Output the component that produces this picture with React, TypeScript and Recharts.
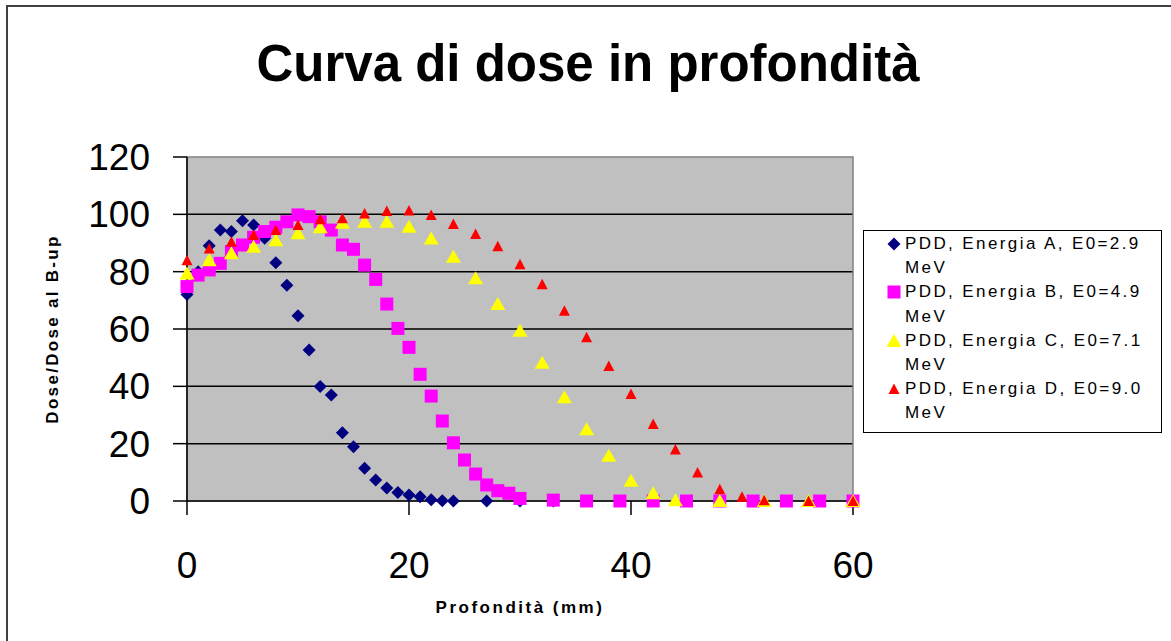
import React from 'react';
import { ScatterChart, Scatter, XAxis, YAxis, CartesianGrid, Legend, ReferenceArea } from 'recharts';

// depth (mm) and relative dose for each beam energy
const depthA = [0, 1, 2, 3, 4, 5, 6, 7, 8, 9, 10, 11, 12, 13, 14, 15, 16, 17, 18, 19, 20, 21, 22, 23, 24, 27, 30, 33];
const doseA = [72, 80, 89, 94.5, 94, 97.8, 96.3, 91.7, 83.1, 75.3, 64.6, 52.7, 39.9, 37, 23.8, 18.9, 11.4, 7.3, 4.5, 3, 2.1, 1.5, 0.4, 0.1, 0, 0, 0, 0];

const depthB = [0, 1, 2, 3, 4, 5, 6, 7, 8, 9, 10, 11, 12, 13, 14, 15, 16, 17, 18, 19, 20, 21, 22, 23, 24, 25, 26, 27, 28, 29, 30, 33, 36, 39, 42, 45, 48, 51, 54, 57, 60];
const doseB = [74.8, 78.8, 80.6, 82.9, 87, 89.3, 92, 94, 95.5, 97.4, 99.8, 99.2, 97.4, 94.5, 89.3, 87.8, 82.3, 77.3, 68.7, 60.2, 53.6, 44.2, 36.6, 27.9, 20.3, 14.3, 9.4, 5.6, 3.6, 2.7, 0.9, 0.3, 0, 0, 0, 0, 0, 0, 0, 0, 0];

const depthC = [0, 2, 4, 6, 8, 10, 12, 14, 16, 18, 20, 22, 24, 26, 28, 30, 32, 34, 36, 38, 40, 42, 44, 48, 52, 56, 60];
const doseC = [79.4, 84, 86.4, 88.7, 91, 93.4, 95.5, 97.1, 97.4, 97.4, 95.7, 91.6, 85.2, 77.7, 68.7, 59.4, 48.2, 36.2, 25, 15.8, 7.1, 2.7, 0.3, 0, 0, 0, 0];

const depthD = [0, 2, 4, 6, 8, 10, 12, 14, 16, 18, 20, 22, 24, 26, 28, 30, 32, 34, 36, 38, 40, 42, 44, 46, 48, 50, 52, 56, 60];
const doseD = [84, 88.1, 90.4, 92.8, 94.5, 96.3, 98.3, 98.6, 100.3, 101.2, 101.3, 99.8, 96.6, 93.1, 88.9, 82.6, 75.6, 66.4, 57.1, 47.1, 37.3, 26.9, 18, 9.9, 4.1, 1.5, 0.3, 0, 0];

const xTicks = [0, 20, 40, 60];
const yTicks = [0, 20, 40, 60, 80, 100, 120];
const gridValues = [20, 40, 60, 80, 100];

const seriesNames = [
  'PDD, Energia A, E0=2.9 MeV',
  'PDD, Energia B, E0=4.9 MeV',
  'PDD, Energia C, E0=7.1 MeV',
  'PDD, Energia D, E0=9.0 MeV',
];

const FONT = '"Liberation Sans", Arial, sans-serif';

const toPoints = (xs: number[], ys: number[]) => xs.map((x, i) => ({ x, y: ys[i] }));

const diamond = (cx: number, cy: number, r = 6.5) => (
  <polygon points={`${cx},${cy - r} ${cx + r},${cy} ${cx},${cy + r} ${cx - r},${cy}`} fill="#000080" />
);
const square = (cx: number, cy: number, r = 6.5) => (
  <rect x={cx - r} y={cy - r} width={r * 2} height={r * 2} fill="#FF00FF" />
);
const bigTri = (cx: number, cy: number) => (
  <polygon points={`${cx},${cy - 7} ${cx + 7.5},${cy + 6} ${cx - 7.5},${cy + 6}`} fill="#FFFF00" />
);
const smallTri = (cx: number, cy: number) => (
  <polygon points={`${cx},${cy - 5.5} ${cx + 5.5},${cy + 5} ${cx - 5.5},${cy + 5}`} fill="#FF0000" />
);

const markers = [diamond, square, bigTri, smallTri];

const LegendBox = () => (
  <div
    style={{
      width: 299,
      height: 203,
      boxSizing: 'border-box',
      border: '1.5px solid #000',
      background: '#fff',
      paddingTop: 1,
      fontFamily: FONT,
      fontSize: 17,
      letterSpacing: 2.4,
      lineHeight: '24.2px',
      color: '#000',
    }}
  >
    {seriesNames.map((name, i) => (
      <div key={name} style={{ position: 'relative', paddingLeft: 41, width: 250 }}>
        <svg width={20} height={20} style={{ position: 'absolute', left: 20, top: 2 }}>
          {markers[i](10, 10)}
        </svg>
        {name}
      </div>
    ))}
  </div>
);

export default function App() {
  return (
    <div style={{ position: 'absolute', left: 0, top: 0, width: 1171, height: 641, background: '#fff', overflow: 'hidden' }}>
      <div
        style={{
          position: 'absolute',
          left: 6,
          top: 5,
          width: 1300,
          height: 800,
          borderTop: '2px solid #404040',
          borderLeft: '2px solid #404040',
        }}
      />
      <div
        style={{
          position: 'absolute',
          left: 88,
          top: 38,
          width: 1000,
          textAlign: 'center',
          fontFamily: FONT,
          fontWeight: 'bold',
          fontSize: 51,
          lineHeight: '51px',
          color: '#000',
        }}
      >
        Curva di dose in profondità
      </div>
      <div style={{ position: 'absolute', left: 0, top: 0 }}>
        <ScatterChart width={1171} height={641} margin={{ top: 157, right: 318, bottom: 40, left: 0 }}>
          <CartesianGrid
            vertical={false}
            horizontalValues={gridValues}
            fill="#C0C0C0"
            fillOpacity={1}
            stroke="#000"
            strokeWidth={1.5}
            strokeOpacity={1}
          />
          <ReferenceArea x1={0} x2={60} y1={0} y2={120} fill="none" stroke="#808080" strokeWidth={1.5} />
          <XAxis
            type="number"
            dataKey="x"
            domain={[0, 60]}
            ticks={xTicks}
            interval={0}
            height={100}
            tickSize={14}
            tickMargin={37}
            axisLine={{ stroke: '#000', strokeWidth: 1.5 }}
            tickLine={{ stroke: '#000', strokeWidth: 1.5 }}
            tick={{ fill: '#000', fontSize: 37, fontFamily: FONT }}
            label={{
              value: 'Profondità (mm)',
              position: 'bottom',
              offset: 0,
              style: { fontFamily: FONT, fontSize: 17, fontWeight: 'bold', letterSpacing: 2.5, fill: '#000' },
            }}
          />
          <YAxis
            type="number"
            dataKey="y"
            domain={[0, 120]}
            ticks={yTicks}
            interval={0}
            width={187}
            tickSize={14}
            tickMargin={23}
            axisLine={{ stroke: '#000', strokeWidth: 1.5 }}
            tickLine={{ stroke: '#000', strokeWidth: 1.5 }}
            tick={{ fill: '#000', fontSize: 37, fontFamily: FONT }}
            label={{
              value: 'Dose/Dose al B-up',
              angle: -90,
              position: 'insideLeft',
              offset: 52,
              style: { textAnchor: 'middle', fontFamily: FONT, fontSize: 17, fontWeight: 'bold', letterSpacing: 2.3, fill: '#000' },
            }}
          />
          <Legend
            layout="vertical"
            align="center"
            verticalAlign="middle"
            wrapperStyle={{ left: 863, top: 230, width: 299, height: 203 }}
            content={() => <LegendBox />}
          />
          <Scatter name={seriesNames[0]} data={toPoints(depthA, doseA)} fill="#000080" isAnimationActive={false} shape={(p: any) => diamond(p.cx, p.cy)} />
          <Scatter name={seriesNames[1]} data={toPoints(depthB, doseB)} fill="#FF00FF" isAnimationActive={false} shape={(p: any) => square(p.cx, p.cy)} />
          <Scatter name={seriesNames[2]} data={toPoints(depthC, doseC)} fill="#FFFF00" isAnimationActive={false} shape={(p: any) => bigTri(p.cx, p.cy)} />
          <Scatter name={seriesNames[3]} data={toPoints(depthD, doseD)} fill="#FF0000" isAnimationActive={false} shape={(p: any) => smallTri(p.cx, p.cy)} />
        </ScatterChart>
      </div>
    </div>
  );
}
